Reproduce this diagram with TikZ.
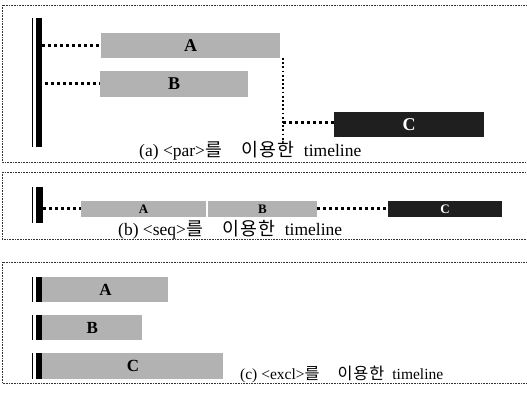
\documentclass[tikz,border=0pt]{standalone}
\usepackage{fontspec}
\setmainfont{Liberation Serif}
\newfontfamily\kr[LetterSpace=6,Scale=1.05]{Noto Sans CJK KR}
\begin{document}
\begin{tikzpicture}[x=1pt,y=-1pt,
  frame/.style={draw=black!80, line width=0.7pt, dash pattern=on 0.7pt off 0.9pt},
  gbox/.style={fill=black!30, draw=none, inner sep=0pt, font=\bfseries\fontsize{18}{18}\selectfont},
  dbox/.style={fill=black!88, draw=none, inner sep=0pt, text=white, font=\bfseries\fontsize{18}{18}\selectfont},
  barbox/.style={fill=black, draw=none, inner sep=0pt, minimum width=6.5pt},
  thinbar/.style={line width=1.6pt},
  dots/.style={line width=3pt, dash pattern=on 2.6pt off 3.4pt},
  vdots/.style={line width=1.8pt, dash pattern=on 1.8pt off 2.4pt},
  captxt/.style={inner sep=0pt, anchor=base west, font=\fontsize{17.5}{18}\selectfont}]
\useasboundingbox (0,0) rectangle (527,395);
\clip (0,0) rectangle (527,395);
\fill[white] (0,0) rectangle (527,395);
% ---------- (a) ----------
\draw[frame] (2,5) rectangle (540,162);
\node[barbox, minimum height=129pt] (bar1) at (38.75,82.5) {};
\draw[thinbar] (32.5,18) -- (32.5,147);
\node[gbox, minimum width=179pt, minimum height=25pt] (A1) at (190.5,45.5) {A};
\node[gbox, minimum width=148pt, minimum height=26pt] (B1) at (174,84) {B};
\node[dbox, minimum width=150pt, minimum height=25pt] (C1) at (409,124.5) {C};
\draw[dots] (bar1.east |- A1.west) -- (A1.west);
\draw[dots] ([xshift=3pt]bar1.east |- B1.west) -- (B1.west);
\coordinate (v1) at (283,58);
\coordinate (v2) at (283,140);
\coordinate (v3) at (283,123);
\draw[vdots] (v1) -- (v2);
\draw[dots] (v3) -- (v3 -| C1.west);
\node[captxt] (capa) at (139,157) {(a) <par>{\kr 를}\hspace{20pt}{\kr 이용한}\hspace{9pt}timeline};
% ---------- (b) ----------
\draw[frame] (2,172) rectangle (540,239);
\node[barbox, minimum width=7.5pt, minimum height=36pt] (bar2) at (39.25,205) {};
\draw[thinbar] (32.5,187) -- (32.5,223);
\node[gbox, minimum width=125pt, minimum height=16pt, font=\bfseries\fontsize{13}{13}\selectfont] (A2) at (143.5,209) {A};
\node[gbox, minimum width=109pt, minimum height=16pt, font=\bfseries\fontsize{13}{13}\selectfont] (B2) at (262.5,209) {B};
\node[dbox, minimum width=114pt, minimum height=16pt, font=\bfseries\fontsize{13}{13}\selectfont] (C2) at (445,209) {C};
\draw[dots] (bar2.east |- A2.west) -- (A2.west);
\draw[dots] (B2.east) -- (C2.west);
\node[captxt] (capb) at (118,235.5) {(b) <seq>{\kr 를}\hspace{20pt}{\kr 이용한}\hspace{9pt}timeline};
% ---------- (c) ----------
\draw[frame] (2,262) rectangle (540,383);
\node[barbox, minimum height=25pt] (bar3a) at (38.75,289.5) {};
\draw[thinbar] (32.5,277) -- (32.5,302);
\node[gbox, minimum width=126pt, minimum height=25pt, anchor=west, font=\bfseries\fontsize{17}{17}\selectfont] (A3) at (bar3a.east) {A};
\node[barbox, minimum height=25pt] (bar3b) at (38.75,327.5) {};
\draw[thinbar] (32.5,315) -- (32.5,340);
\node[gbox, minimum width=100pt, minimum height=25pt, anchor=west, font=\bfseries\fontsize{17}{17}\selectfont] (B3) at (bar3b.east) {B};
\node[barbox, minimum height=26pt] (bar3c) at (38.75,366) {};
\draw[thinbar] (32.5,353) -- (32.5,379);
\node[gbox, minimum width=181pt, minimum height=26pt, anchor=west, font=\bfseries\fontsize{17}{17}\selectfont] (C3) at (bar3c.east) {C};
\node[captxt, font=\fontsize{15.5}{16}\selectfont] (capc) at (240,379) {(c) <excl>{\kr 를}\hspace{18pt}{\kr 이용한}\hspace{8pt}timeline};
\end{tikzpicture}
\end{document}
